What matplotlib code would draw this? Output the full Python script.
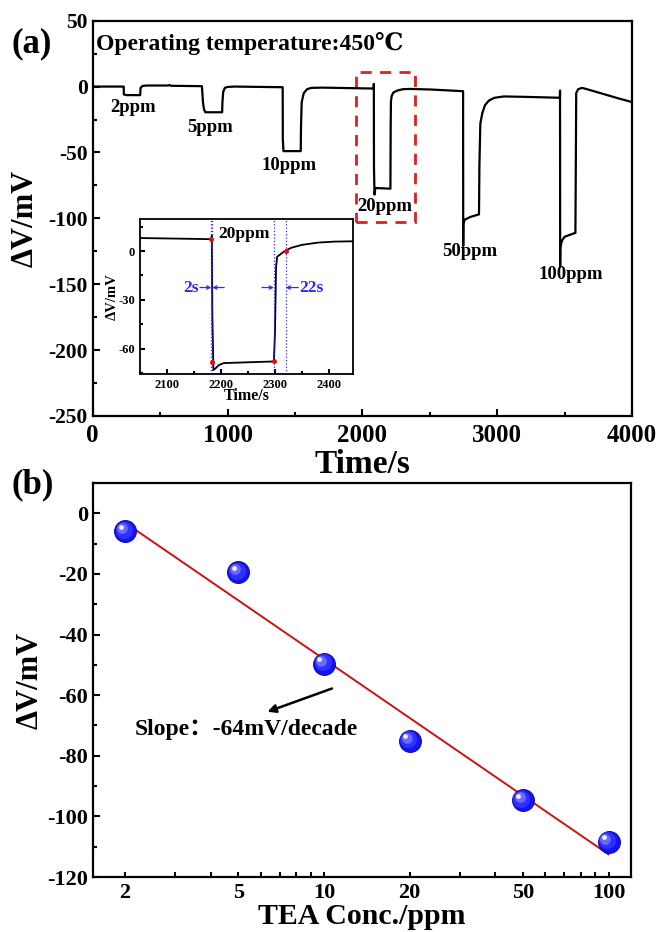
import matplotlib
matplotlib.use("Agg")
import matplotlib.pyplot as plt
import matplotlib.transforms as mtransforms
from matplotlib.patches import Rectangle
from matplotlib.ticker import MultipleLocator, LogLocator, NullFormatter, FixedLocator, FixedFormatter
import numpy as np

plt.rcParams['font.family'] = ['Liberation Serif', 'DejaVu Serif', 'DejaVu Sans', 'Noto Sans CJK SC']
plt.rcParams['font.weight'] = 'bold'
plt.rcParams['axes.labelweight'] = 'bold'
plt.rcParams['axes.unicode_minus'] = False

# ---- (a) transient response at 450 C ----
time_s = [0, 230, 231, 250, 352, 355, 370, 400, 560, 570, 580, 810, 812, 818, 825, 835,
          960, 962, 968, 980, 1000, 1050, 1409, 1410, 1415, 1543, 1545, 1550, 1565, 1590,
          1620, 1700, 2084, 2085, 2086, 2090, 2095, 2100, 2208, 2210, 2212, 2218, 2230,
          2260, 2300, 2350, 2500, 2747, 2748, 2749, 2760, 2800, 2865, 2868, 2875, 2890,
          2910, 2940, 2980, 3050, 3200, 3465, 3466, 3467, 3468, 3480, 3500, 3580, 3583,
          3586, 3600, 3630, 3700, 3800, 3900, 4000]
dv_mv = [0, 0, -6, -6.5, -6.5, -1, 0.5, 0.8, 0.8, 1.2, 0.6, 0.3, -3, -12, -17, -19.5,
         -19.5, -12, -4, -1, -0.3, 0, -0.5, -40, -49, -49, -30, -12, -5, -2,
         -1, -0.8, -1.5, 2, -60, -82, -78, -77, -77.5, -30, -11, -7, -4.5,
         -3, -2, -1.8, -2.2, -3.5, -121, -104, -101, -99, -97, -60, -28, -20,
         -14, -10.5, -8.5, -7.5, -7.8, -8.5, -3, -137, -122, -117, -114, -111, -60,
         -5, -2, -1, -3, -6, -9, -11.8]

conc_labels = ['2ppm', '5ppm', '10ppm', '20ppm', '50ppm', '100ppm']
label_t = [296, 871, 1459, 2163, 2797, 3547]
label_v = [-16, -31, -60, -91, -125, -143]

# inset: zoom on the 20 ppm pulse
inset_t = [2050, 2182, 2183, 2184, 2186, 2190, 2196, 2205, 2250, 2298, 2300, 2302,
           2304, 2318, 2330, 2350, 2380, 2410, 2445]
inset_v = [8.0, 7.3, 9.5, -40, -73, -72, -70, -68.8, -68.3, -67.8, -50, -10,
           -3.5, 0, 2, 3.8, 5.2, 5.8, 6.0]
resp_start, resp_time = 2182, 2
rec_start, rec_time = 2298, 22
red_t = [2182, 2184, 2298, 2320]
red_v = [7.3, -68, -67.8, 0.3]

# ---- (b) response vs concentration ----
conc = [2, 5, 10, 20, 50, 100]
resp = [-6, -19.4, -49.6, -75, -94.7, -108.4]

fig = plt.figure(figsize=(6.57, 9.32), dpi=100)

def style_axis(ax, size=12.5, major=5, minor=3):
    for s in ax.spines.values():
        s.set_linewidth(1.6)
    ax.tick_params(which='both', direction='in', width=1.5, labelsize=size, top=False, right=False)
    ax.tick_params(which='major', length=major)
    ax.tick_params(which='minor', length=minor)
    for lab in ax.get_xticklabels() + ax.get_yticklabels():
        lab.set_fontweight('bold')

ax1 = fig.add_axes([0.1411, 0.5537, 0.8209, 0.4241])
ax1.plot(time_s, dv_mv, color='black', lw=1.6)
ax1.set_xlim(0, 4000)
ax1.set_ylim(-250, 50)
ax1.xaxis.set_major_locator(MultipleLocator(1000))
ax1.xaxis.set_minor_locator(MultipleLocator(500))
ax1.yaxis.set_major_locator(MultipleLocator(50))
ax1.yaxis.set_minor_locator(MultipleLocator(25))
style_axis(ax1, size=15.5)
ax1.tick_params(axis='x', labelsize=18, pad=6)
ax1.set_xlabel('Time/s', fontsize=24, labelpad=1)
ax1.set_ylabel('ΔV/mV', fontsize=22, labelpad=6)
for lab, t, v in zip(conc_labels, label_t, label_v):
    ax1.text(t, v, lab, fontsize=13.5, fontweight='bold', ha='center', va='center')
ax1.text(25, 32.7, 'Operating temperature:450℃', fontsize=17, fontweight='bold', ha='left', va='center')
ax1.add_patch(Rectangle((1951, -103), 439, 113.8, fill=False, ec='#dd2020', lw=2, ls=(0, (4, 3))))
fig.text(0.018, 0.953, '(a)', fontsize=25, fontweight='bold', ha='left', va='center')

ins = fig.add_axes([0.2131, 0.5987, 0.3246, 0.1660])
ins.plot(inset_t, inset_v, color='black', lw=1.3)
for t in [resp_start, resp_start + resp_time, rec_start, rec_start + rec_time]:
    ins.axvline(t, color='#2a2aff', lw=0.9, ls=':')
ins.plot(red_t, red_v, 'o', color='red', ms=2.5, zorder=5)
ins.set_xlim(2050, 2445)
ins.set_ylim(-75.5, 19.5)
ins.xaxis.set_major_locator(MultipleLocator(100))
ins.xaxis.set_minor_locator(MultipleLocator(50))
ins.yaxis.set_major_locator(MultipleLocator(30))
ins.yaxis.set_minor_locator(MultipleLocator(15))
style_axis(ins, size=9, major=3.5, minor=2)
for s in ins.spines.values():
    s.set_linewidth(1.3)
ins.set_xlabel('Time/s', fontsize=11.5, labelpad=-2)
ins.set_ylabel('ΔV/mV', fontsize=10.5, labelpad=0)
ins.text(2243, 10.2, '20ppm', fontsize=12.5, fontweight='bold', ha='center', va='center')
blue = '#2a2aff'
arrow = dict(arrowstyle='->', color=blue, lw=0.9, shrinkA=0, shrinkB=0, mutation_scale=6)
ins.text(2145, -22.4, '2s', color=blue, fontsize=12.5, fontweight='bold', ha='center', va='center')
ins.annotate('', xy=(resp_start, -22.4), xytext=(2161, -22.4), arrowprops=arrow)
ins.annotate('', xy=(resp_start + resp_time, -22.4), xytext=(2206, -22.4), arrowprops=arrow)
ins.text(2367, -22.4, '22s', color=blue, fontsize=12.5, fontweight='bold', ha='center', va='center')
ins.annotate('', xy=(rec_start, -22.4), xytext=(2276, -22.4), arrowprops=arrow)
ins.annotate('', xy=(rec_start + rec_time, -22.4), xytext=(2343, -22.4), arrowprops=arrow)

ax2 = fig.add_axes([0.1411, 0.0590, 0.8194, 0.4228])
ax2.set_xscale('log')
slope, intercept = np.polyfit(np.log10(conc), resp, 1)
fit_x = np.array([conc[0], conc[-1]])
ax2.plot(fit_x, intercept + slope * np.log10(fit_x), color='#cc1111', lw=1.4, zorder=2)
# shaded spheres: base disc plus offset highlights
ax2.scatter(conc, resp, s=250, color='#1414f0', edgecolors='#0000a0', linewidths=0.6, zorder=3)
for dx, dy, s, c in [(-1.0, 1.0, 150, '#3030ff'), (-2.2, 2.2, 60, '#6a6aff'), (-3.2, 3.2, 12, '#f0f0ff')]:
    tr = mtransforms.offset_copy(ax2.transData, fig=fig, x=dx, y=dy, units='points')
    ax2.scatter(conc, resp, s=s, color=c, linewidths=0, zorder=4, transform=tr)
ax2.set_xlim(1.54, 120)
ax2.set_ylim(-120, 10)
ax2.xaxis.set_major_locator(FixedLocator(conc))
ax2.xaxis.set_major_formatter(FixedFormatter([str(c) for c in conc]))
ax2.xaxis.set_minor_locator(LogLocator(base=10, subs=np.arange(2, 10)))
ax2.xaxis.set_minor_formatter(NullFormatter())
ax2.yaxis.set_major_locator(MultipleLocator(20))
ax2.yaxis.set_minor_locator(MultipleLocator(10))
style_axis(ax2, size=16)
ax2.tick_params(axis='x', which='major', length=3.5, pad=4)
ax2.tick_params(axis='x', which='minor', length=3.5)
ax2.set_xlabel('TEA Conc./ppm', fontsize=21.5, labelpad=0)
ax2.set_ylabel('ΔV/mV', fontsize=22, labelpad=1.5)
ax2.annotate('', xy=(6.2, -65.8), xytext=(10.9, -57.5),
             arrowprops=dict(arrowstyle='-|>', color='black', lw=1.8, mutation_scale=12))
ax2.text(2.16, -71.3, 'Slope：-64mV/decade', fontsize=17, fontweight='bold', ha='left', va='center')
fig.text(0.018, 0.480, '(b)', fontsize=25, fontweight='bold', ha='left', va='center')

fig.savefig('out.png', dpi=100)
